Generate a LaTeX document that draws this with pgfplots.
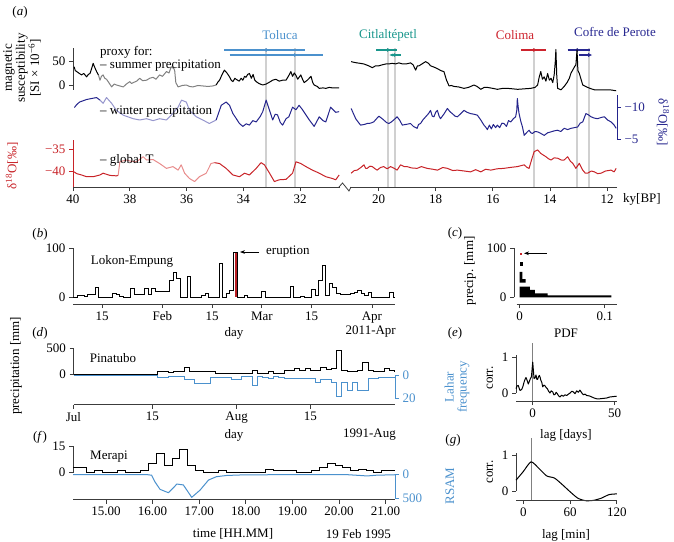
\documentclass[border=0pt]{standalone}
\usepackage{fontspec}
\setmainfont{Liberation Serif}
\usepackage{pgfplots}
\pgfplotsset{compat=1.18}
\usetikzlibrary{arrows.meta}

\definecolor{navyc}{RGB}{36,36,140}
\definecolor{navyl}{RGB}{150,150,205}
\definecolor{redc}{RGB}{200,35,40}
\definecolor{pinkc}{RGB}{232,140,140}
\definecolor{grayc}{RGB}{128,128,128}
\definecolor{tolc}{RGB}{75,145,205}
\definecolor{citc}{RGB}{25,150,140}
\definecolor{colc}{RGB}{205,35,45}
\definecolor{cofc}{RGB}{40,40,145}
\definecolor{lahc}{RGB}{75,145,205}
\definecolor{vline}{RGB}{208,208,208}
\definecolor{axc}{RGB}{60,60,60}
\definecolor{erupc}{RGB}{185,30,35}

\newcommand{\fs}{\fontsize{13}{13}\selectfont}

\pgfplotsset{
  P/.style n args={4}{scale only axis, anchor=south west, at={(#1pt,-#2pt)},
    width=#3pt, height=#4pt, clip=false, tick align=outside,
    major tick length=4pt, tick style={axc,line width=0.8pt},
    axis line style={axc,line width=0.8pt},
    tick label style={font=\fs}, minor tick num=0},
  noax/.style={axis lines=none},
  yonly/.style={axis y line*=left, axis x line=none, xtick=\empty},
  xonly/.style={axis x line*=bottom, axis y line=none, ytick=\empty, ymin=0, ymax=1},
  dl/.style={line width=1pt, line join=round},
  hl/.style={line width=0.9pt, const plot},
}

\begin{document}
\begin{tikzpicture}[font=\fs]
\useasboundingbox (0,0) rectangle (674pt,-541pt);

% ================= (a) left segment =================
\begin{axis}[P={73}{187}{267}{147}, noax, x dir=reverse, xmin=30.6, xmax=40, ymin=0, ymax=147]
\addplot[vline, line width=2pt] coordinates {(33.2,0)(33.2,139)};
\addplot[vline, line width=2pt] coordinates {(32.2,0)(32.2,139)};
\addplot[tolc, line width=1.2pt] coordinates {(34.67,137)(31.82,137)};
\addplot[tolc, line width=1.2pt] coordinates {(34.49,132)(31.19,132)};
\addplot[tolc, only marks, mark=*, mark size=1.5pt] coordinates {(33.2,137)(32.2,132)};
\end{axis}

\begin{axis}[P={73}{89.8}{267}{41.8}, yonly, x dir=reverse, xmin=30.6, xmax=40,
  ymin=-10, ymax=77, ytick={0,50}, yticklabels={0,50}]
\addplot[dl, black] coordinates {(39.96,38)(39.92,30)(39.87,28)(39.80,25)(39.70,21)(39.62,24)
  (39.52,17)(39.46,22)(39.40,24)(39.34,35)(39.29,45)(39.23,36)(39.17,28)(39.10,20)};
\addplot[dl, grayc] coordinates {(39.10,20)(39.05,10)(39.00,18)(38.94,21)(38.88,14)(38.82,12)
  (38.75,6)(38.64,-4)(38.55,2)(38.47,0)(38.35,-2)(38.23,-4)(38.12,2)(38.00,7)(37.94,3)(37.88,5)
  (37.76,8)(37.65,14)(37.55,9)(37.41,10)(37.30,14)(37.18,16)(37.08,12)(36.95,21)(36.85,18)
  (36.71,28)(36.62,25)(36.54,38)(36.45,34)(36.42,30)(36.38,5)(36.30,-4)(36.15,-1)(36.01,0)
  (35.90,-3)(35.78,-4)(35.60,-1)(35.43,-2)(35.25,-3)(35.08,-2)(34.96,0)};
\addplot[dl, black] coordinates {(34.96,0)(34.90,6)(34.84,10)(34.75,22)(34.67,31)(34.58,25)
  (34.49,17)(34.43,10)(34.37,7)(34.30,14)(34.26,12)(34.15,8)(34.08,14)(34.02,10)(33.96,18)
  (33.91,16)(33.85,22)(33.79,24)(33.72,14)(33.66,22)(33.60,10)(33.55,7)(33.45,3)(33.32,0)
  (33.20,2)(33.08,6)(32.97,10)(32.86,12)(32.74,8)(32.62,10)(32.50,10)(32.40,20)(32.33,28)
  (32.27,18)(32.21,25)(32.15,20)(32.09,12)(31.98,21)(31.92,12)(31.86,5)(31.75,10)(31.62,18)
  (31.56,5)(31.51,0)(31.40,-3)(31.33,-7)(31.20,-6)(31.10,-7)(30.98,-5)(30.87,-6)(30.75,-6)(30.63,-6)};
\end{axis}

\begin{axis}[P={73}{139.2}{267}{44.2}, noax, x dir=reverse, xmin=30.6, xmax=40,
  y dir=reverse, ymin=-11.9, ymax=-5]
\addplot[dl, navyc] coordinates {(39.95,-9.95)(39.87,-10.4)(39.77,-10.8)(39.52,-11.2)
  (39.29,-11.4)(39.17,-11.5)(39.05,-11.1)};
\addplot[dl, navyl] coordinates {(39.05,-11.1)(38.94,-10.6)(38.82,-11.5)(38.64,-10.6)
  (38.47,-9.5)(38.23,-8.75)(37.88,-8.2)(37.65,-8.0)(37.41,-8.2)(37.18,-7.9)(36.95,-8.2)
  (36.71,-8.0)(36.54,-8.75)(36.30,-10.0)(36.18,-11.1)(36.01,-10.8)(35.90,-9.5)(35.66,-8.5)
  (35.43,-8.0)(35.20,-7.45)(34.96,-8.0)};
\addplot[dl, navyc] coordinates {(34.96,-8.0)(34.78,-10.3)(34.61,-10.8)(34.49,-10.3)
  (34.37,-9.0)(34.25,-8.2)(34.14,-7.45)(34.02,-7.0)(33.90,-7.4)(33.79,-7.2)(33.67,-7.9)(33.55,-7.7)
  (33.40,-8.6)(33.32,-9.3)(33.20,-11.1)(33.08,-9.5)(32.97,-8.0)(32.88,-8.9)(32.80,-8.8)
  (32.70,-7.6)(32.62,-7.2)(32.50,-8.2)(32.40,-8.5)(32.27,-10.0)(32.15,-9.6)(32.04,-10.3)
  (31.92,-9.6)(31.80,-8.8)(31.68,-8.0)(31.51,-7.0)(31.33,-8.5)(31.20,-7.9)(31.10,-7.7)
  (30.93,-10.0)(30.75,-9.2)(30.63,-9.3)};
\end{axis}

\begin{axis}[P={73}{187}{267}{47}, axis x line*=bottom, axis y line*=left,
  x dir=reverse, xmin=30.6, xmax=40, ymin=-43.64, ymax=-32.95,
  xtick={40,38,36,34,32}, xticklabels={40,38,36,34,32},
  ytick={-40,-35}, yticklabels={−40,−35},
  y axis line style={redc}, ytick style={redc}, yticklabel style={text=redc}]
\addplot[dl, redc] coordinates {(39.96,-40.2)(39.87,-40.6)(39.70,-40.9)(39.52,-41.3)
  (39.29,-41.3)(39.05,-40.9)(38.94,-40.5)(38.70,-41.0)(38.47,-41.1)(38.41,-41.0)};
\addplot[dl, pinkc] coordinates {(38.41,-41.0)(38.35,-37.9)(38.12,-37.5)(37.95,-37.8)
  (37.76,-37.9)(37.53,-36.75)(37.41,-37.5)(37.18,-37.4)(36.95,-38.3)(36.71,-39.4)(36.48,-39.0)
  (36.30,-39.8)(36.19,-38.6)(36.07,-40.5)(35.90,-41.7)(35.72,-42.4)(35.55,-41.3)(35.31,-40.5)
  (35.14,-38.3)(35.02,-38.1)};
\addplot[dl, redc] coordinates {(35.02,-38.1)(34.84,-38.3)(34.61,-39.4)(34.37,-40.9)
  (34.14,-41.3)(33.96,-40.5)(33.79,-40.9)(33.55,-39.4)(33.38,-38.1)(33.26,-38.6)(33.08,-40.5)
  (32.91,-42.4)(32.74,-42.0)(32.50,-41.9)(32.27,-40.5)(32.15,-37.9)(31.98,-38.3)(31.80,-39.0)
  (31.57,-39.8)(31.33,-40.5)(31.10,-41.3)(30.87,-41.7)(30.75,-42.0)(30.63,-40.9)};
\end{axis}

% ================= (a) right segment =================
\begin{axis}[P={350}{187}{267}{147}, noax, x dir=reverse, xmin=11.65, xmax=21, ymin=0, ymax=147]
\addplot[vline, line width=2pt] coordinates {(19.68,0)(19.68,139)};
\addplot[vline, line width=2pt] coordinates {(19.44,0)(19.44,139)};
\addplot[vline, line width=2pt] coordinates {(14.56,0)(14.56,139)};
\addplot[vline, line width=2pt] coordinates {(13.04,0)(13.04,139)};
\addplot[vline, line width=2pt] coordinates {(12.64,0)(12.64,139)};
\addplot[citc, line width=1.2pt] coordinates {(20.08,137)(19.34,137)};
\addplot[citc, line width=1.2pt, -{Stealth[length=4pt]}] coordinates {(19.23,132)(19.62,132)};
\addplot[citc, only marks, mark=*, mark size=1.5pt] coordinates {(19.68,137)(19.44,132)};
\addplot[colc, line width=1.2pt] coordinates {(15.02,137)(14.14,137)};
\addplot[colc, only marks, mark=*, mark size=1.5pt] coordinates {(14.56,137)};
\addplot[cofc, line width=1.2pt] coordinates {(13.38,137)(12.59,137)};
\addplot[cofc, line width=1.2pt, -{Stealth[length=4pt]}] coordinates {(12.98,132)(12.52,132)};
\addplot[cofc, only marks, mark=*, mark size=1.5pt] coordinates {(13.04,137)(12.64,132)};
\end{axis}

\begin{axis}[P={350}{89.8}{267}{41.8}, noax, x dir=reverse, xmin=11.65, xmax=21, ymin=-10, ymax=77]
\addplot[dl, black] coordinates {(20.96,48.6)(20.85,47)(20.75,46)(20.63,45)(20.51,43.7)
  (20.35,40)(20.22,36)(20.10,40)(19.99,40)(19.87,42)(19.75,43.7)(19.63,44)(19.52,45)(19.40,44)
  (19.29,46)(19.17,44)(19.05,43.7)(18.95,45)(18.88,46)(18.79,42)(18.70,31)(18.64,40)(18.58,40)
  (18.45,45)(18.35,48.6)(18.25,45)(18.18,40)(18.05,37)(17.94,34)(17.82,30)(17.71,27.8)(17.62,10)
  (17.53,-2)(17.45,-1)(17.36,-3)(17.20,-4)(17.01,-7)(16.85,-5)(16.66,0)(16.55,-3)(16.42,-9)
  (16.30,-5)(16.19,-5)(16.00,-7)(15.84,-9)(15.65,-7)(15.48,-7)(15.30,-8)(15.13,-9)(14.90,-8)
  (14.67,-7)(14.52,-5)(14.43,0)(14.38,15)(14.32,28)(14.26,12)(14.20,17)(14.14,8)(14.08,24)
  (14.02,10)(13.96,14)(13.90,5)(13.85,21)(13.81,50)(13.79,74)(13.76,20)(13.73,-7)(13.61,-10)
  (13.50,-3)(13.40,5)(13.32,14)(13.26,25)(13.20,31)(13.14,38)(13.09,42)(13.05,73)(13.02,30)
  (12.97,24)(12.91,12)(12.85,0)(12.75,-3)(12.68,-5)(12.55,-8)(12.44,-10)(12.25,-10)(12.09,-10)
  (11.90,-10)(11.68,-12)};
\end{axis}

\begin{axis}[P={350}{139.2}{267}{44.2}, axis y line*=right, axis x line=none, xtick=\empty,
  x dir=reverse, xmin=11.65, xmax=21, y dir=reverse, ymin=-11.9, ymax=-5,
  ytick={-10,-5}, yticklabels={−10,−5},
  y axis line style={navyc}, ytick style={navyc}, yticklabel style={text=navyc}]
\addplot[dl, navyc] coordinates {(20.96,-9.8)(20.88,-9.0)(20.80,-8.2)(20.70,-7.6)(20.63,-7.2)
  (20.50,-7.3)(20.40,-7.45)(20.28,-7.5)(20.17,-7.7)(20.05,-8.3)(19.99,-8.6)(19.90,-8.3)
  (19.82,-8.0)(19.72,-7.6)(19.64,-7.45)(19.55,-7.7)(19.47,-8.0)(19.35,-8.5)(19.25,-7.9)
  (19.17,-7.2)(19.05,-7.3)(18.88,-7.45)(18.78,-7.0)(18.65,-6.7)(18.60,-7.3)(18.53,-7.45)
  (18.45,-8.0)(18.35,-8.5)(18.25,-9.0)(18.18,-9.5)(18.12,-8.6)(18.06,-8.5)(18.00,-9.2)
  (17.94,-9.5)(17.88,-8.6)(17.83,-8.2)(17.70,-9.0)(17.59,-9.8)(17.50,-9.3)(17.42,-9.0)
  (17.32,-8.6)(17.24,-8.5)(17.12,-9.0)(17.01,-9.5)(16.90,-9.2)(16.78,-9.0)(16.66,-8.9)
  (16.54,-8.75)(16.42,-8.0)(16.31,-7.2)(16.25,-6.9)(16.19,-6.5)(16.12,-7.2)(16.05,-6.6)
  (15.98,-7.3)(15.90,-6.8)(15.84,-7.2)(15.76,-6.8)(15.68,-7.5)(15.61,-7.45)(15.52,-7.0)
  (15.45,-7.9)(15.37,-7.7)(15.28,-8.2)(15.20,-8.5)(15.16,-9.5)(15.14,-11.36)(15.11,-10)
  (15.08,-9.0)(15.02,-7.8)(14.96,-6.9)(14.90,-5.6)(14.82,-6.0)(14.73,-6.4)(14.67,-6.0)
  (14.61,-5.9)(14.52,-6.2)(14.43,-6.15)(14.32,-5.9)(14.20,-5.6)(14.08,-6.0)(13.96,-6.15)
  (13.85,-6.3)(13.73,-6.4)(13.62,-6.2)(13.50,-6.7)(13.38,-6.5)(13.26,-6.7)(13.15,-6.8)
  (13.03,-6.9)(12.94,-7.5)(12.85,-7.7)(12.74,-9.0)(12.65,-8.8)(12.56,-8.5)(12.45,-8.3)
  (12.33,-8.2)(12.20,-8.4)(12.09,-8.5)(11.98,-8.0)(11.86,-7.7)(11.75,-7.2)(11.68,-6.7)};
\end{axis}

\begin{axis}[P={350}{187}{267}{47}, axis x line*=bottom, axis y line=none, ytick=\empty,
  x dir=reverse, xmin=11.65, xmax=21, ymin=-43.64, ymax=-32.95,
  xtick={20,18,16,14,12}, xticklabels={20,18,16,14,12}]
\addplot[dl, redc] coordinates {(20.96,-40.5)(20.85,-39.9)(20.75,-39.8)(20.62,-39.2)
  (20.51,-38.6)(20.45,-39.4)(20.40,-39.4)(20.30,-38.9)(20.22,-39.0)(20.12,-39.5)(20.05,-39.8)
  (19.93,-39.2)(19.82,-39.0)(19.70,-39.5)(19.58,-39.0)(19.45,-39.4)(19.35,-39.8)(19.23,-38.6)
  (19.10,-39.0)(19.00,-39.0)(18.85,-39.3)(18.65,-39.4)(18.50,-39.0)(18.30,-39.4)(18.10,-39.6)
  (17.94,-39.8)(17.75,-39.2)(17.59,-39.4)(17.40,-39.9)(17.24,-39.8)(17.00,-40.0)(16.78,-40.2)
  (16.60,-39.7)(16.42,-40.2)(16.25,-39.6)(16.07,-39.8)(15.85,-39.5)(15.61,-39.4)(15.40,-39.2)
  (15.14,-39.0)(14.90,-38.6)(14.80,-39.2)(14.73,-39.4)(14.62,-37.0)(14.55,-35.6)(14.43,-35.2)
  (14.32,-36.0)(14.20,-36.5)(14.14,-36.75)(14.05,-37.2)(13.96,-37.5)(13.85,-37.0)(13.73,-37.1)
  (13.60,-37.5)(13.50,-37.5)(13.38,-36.75)(13.28,-37.8)(13.20,-38.25)(13.09,-39.4)(12.97,-38.25)
  (12.90,-39.2)(12.85,-39.8)(12.76,-40.5)(12.68,-40.5)(12.55,-40.0)(12.44,-40.2)(12.33,-40.6)
  (12.21,-40.5)(12.05,-40.0)(11.86,-39.8)(11.75,-40.2)(11.68,-39.4)};
\end{axis}

% axis break
\draw[axc, line width=0.8pt] (339pt,-187pt) -- (342.5pt,-183pt) -- (349pt,-191pt) -- (351pt,-187pt);

% ================= (b) =================
\begin{axis}[P={73}{297.3}{322}{49}, yonly, xmin=6.8, xmax=97.5, ymin=0, ymax=100,
  ytick={0,100}, yticklabels={0,100}]
\addplot[fill=erupc, draw=none] coordinates {(52.45,0)(52.45,92)(53.1,92)(53.1,0)} -- cycle;
\addplot[hl, black] coordinates {(6.8,0)(7,0)(8,3)(9,3)(10,2)(11,5)(12,5)(13,20)(14,0)(15,0)
  (16,0)(17,0)(18,7)(19,5)(20,2)(21,0)(22,0)(23,19)(24,5)(25,5)(26,5)(27,18)(28,6)(29,19)
  (30,12)(31,12)(32,12)(33,12)(34,35)(35,50)(36,38)(37,0)(38,0)(39,42)(40,0)(41,0)(42,0)(43,4)
  (44,8)(45,0)(46,0)(47,0)(48,70)(49,0)(50,8)(51,13)(52,92)(53,0)(54,0)(55,4)(56,0)(57,0)(58,0)
  (59,0)(60,11)(61,0)(62,0)(63,0)(64,0)(65,0)(66,0)(67,0)(68,22)(69,0)(70,0)(71,2)(72,0)(73,0)
  (74,16)(75,4)(76,35)(77,66)(78,3)(79,28)(80,20)(81,8)(82,5)(83,5)(84,6)(85,8)(86,10)(87,15)
  (88,8)(89,4)(90,10)(91,0)(92,0)(93,0)(94,0)(95,0)(96,10)(97,0)(97.5,0)};
\end{axis}
\begin{axis}[P={73}{304}{322}{1}, xonly, xmin=6.8, xmax=97.5,
  xtick={15,32,46,60,74,91}, xticklabels={15,Feb,15,Mar,15,Apr}]
\end{axis}

% ================= (c) =================
\begin{axis}[P={514}{297.3}{103}{49}, yonly, xmin=-0.0067, xmax=0.1145, ymin=0, ymax=100,
  ytick={0,100}, yticklabels={0,100}]
\addplot[fill=black, draw=none] coordinates {(0,0)(0.108,0)(0.108,4)(0.033,4)(0.033,8)
  (0.018,8)(0.018,15)(0.012,15)(0.012,22)(0,22)} -- cycle;
\addplot[fill=black, draw=none] coordinates {(0,30)(0.007,30)(0.007,37)(0.003,37)(0.003,52)(0,52)} -- cycle;
\addplot[fill=black, draw=none] coordinates {(0,64)(0.0042,64)(0.0042,73)(0,73)} -- cycle;
\addplot[fill=redc, draw=none] coordinates {(0,86)(0.003,86)(0.003,91)(0,91)} -- cycle;
\end{axis}
\begin{axis}[P={516.7}{304}{100.3}{1}, xonly, xmin=-0.0035, xmax=0.1145,
  xtick={0,0.1}, xticklabels={0,0.1}]
\end{axis}

% ================= (d) =================
\begin{axis}[P={73.5}{398.3}{321.5}{23.3}, axis y line*=right, axis x line=none, xtick=\empty,
  xmin=0, xmax=61.1, y dir=reverse, ymin=0, ymax=20, ytick={0,20}, yticklabels={0,20},
  y axis line style={lahc}, ytick style={lahc}, yticklabel style={text=lahc}]
\addplot[hl, lahc] coordinates {(0,0)(16,2)(17,2)(18,1)(19,1)(20,1)(21,4)(22,4)(23,7)(24,7)
  (25,7)(26,2)(27,2)(28,2)(29,2)(30,4)(31,4)(32,1)(33,1)(34,9)(35,1)(36,2)(37,3)(38,1)(39,2)
  (40,3)(41,3)(42,3)(43,3)(44,3)(45,3)(46,6)(47,4)(48,4)(49,6)(50,18)(51,6)(52,13)(53,6)(54,13)
  (55,13)(56,3)(57,3)(58,2)(59,2)(60,2)(61,2)(61.1,2)};
\end{axis}
\begin{axis}[P={73.5}{374}{321.5}{26}, yonly, xmin=0, xmax=61.1, ymin=0, ymax=500,
  ytick={0,500}, yticklabels={0,500}]
\addplot[hl, black] coordinates {(0,0)(16,45)(17,45)(18,30)(19,45)(20,45)(21,130)(22,40)
  (23,40)(24,45)(25,45)(26,45)(27,20)(28,20)(29,20)(30,15)(31,10)(32,15)(33,15)(34,60)(35,20)
  (36,20)(37,40)(38,20)(39,20)(40,60)(41,60)(42,105)(43,60)(44,110)(45,60)(46,60)(47,120)
  (48,90)(49,100)(50,460)(51,60)(52,50)(53,50)(54,75)(55,215)(56,60)(57,50)(58,50)(59,105)
  (60,70)(61,40)(61.1,40)};
\end{axis}
\begin{axis}[P={73.5}{404.5}{321.5}{1}, xonly, xmin=0, xmax=61.1,
  xtick={0,15,31,45}, xticklabels={Jul,15,Aug,15}]
\end{axis}

% ================= (e) =================
\begin{axis}[P={516}{393}{101}{38}, yonly, xmin=-10.2, xmax=51.4, ymin=0, ymax=1.056,
  ytick={0,1}, yticklabels={0,1}]
\addplot[grayc, line width=1pt] coordinates {(0,-0.22)(0,1.39)};
\addplot[dl, black] coordinates {(-10.2,0.12)(-9.5,0.2)(-8.8,0.21)(-8.2,0.12)(-7.7,0.07)
  (-6.7,0.1)(-6,0.18)(-5.3,0.3)(-4.7,0.38)(-4.1,0.43)(-3.4,0.35)(-2.7,0.25)(-2.1,0.32)
  (-1.6,0.38)(-0.8,0.45)(0,0.86)(0.8,0.4)(1.4,0.42)(2,0.5)(2.5,0.38)(3,0.38)(3.5,0.45)(4,0.49)
  (4.5,0.44)(4.9,0.36)(5.5,0.3)(6.1,0.17)(6.8,0.22)(7.5,0.2)(8.2,0.15)(8.9,0.12)(9.7,0.05)
  (10.5,0.0)(11.3,0.06)(12.2,0.03)(12.9,-0.05)(13.6,-0.04)(14.3,0.02)(15,-0.02)(15.8,-0.08)
  (16.6,-0.11)(17.6,-0.06)(18.7,-0.09)(19.7,-0.05)(20.7,-0.07)(21.8,-0.03)(22.8,0.0)
  (23.8,0.05)(24.8,0.03)(25.8,-0.02)(26.8,0.06)(27.8,0.02)(28.8,0.08)(29.8,0.01)(30.9,-0.05)
  (31.9,-0.03)(32.9,-0.07)(34.5,-0.08)(36,-0.11)(37.5,-0.14)(39,-0.16)(41,-0.16)(43,-0.15)
  (45,-0.14)(47.1,-0.11)(49,-0.1)(51.2,-0.09)};
\end{axis}
\begin{axis}[P={516}{401}{101}{1}, xonly, xmin=-10.2, xmax=51.4,
  xtick={0,50}, xticklabels={0,50}]
\end{axis}

% ================= (f) =================
\begin{axis}[P={73}{498.3}{322}{24.3}, axis y line*=right, axis x line=none, xtick=\empty,
  xmin=14.292, xmax=21.202, y dir=reverse, ymin=0, ymax=500, ytick={0,500}, yticklabels={0,500},
  y axis line style={lahc}, ytick style={lahc}, yticklabel style={text=lahc}]
\addplot[dl, lahc] coordinates {(14.292,15)(15.0,15)(15.9,15)(15.98,25)(16.05,160)(16.16,316)
  (16.34,385)(16.45,280)(16.52,206)(16.66,225)(16.84,480)(17.02,330)(17.2,124)(17.37,55)
  (17.59,30)(17.88,20)(18.5,15)(20.2,15)(20.45,30)(20.6,40)(20.8,25)(21.202,15)};
\end{axis}
\begin{axis}[P={73}{472.7}{322}{26.7}, yonly, xmin=14.292, xmax=21.202, ymin=0, ymax=15,
  ytick={0,15}, yticklabels={0,15}]
\addplot[hl, black] coordinates {(14.292,3)(14.417,3)(14.583,0)(14.75,1)(14.917,0)(15.083,0)
  (15.25,1)(15.417,0)(15.583,0)(15.75,1)(15.917,5)(16.083,11)(16.25,4)(16.417,8)(16.583,13)
  (16.75,4)(16.917,1)(17.083,0)(17.25,0)(17.417,1)(17.583,0)(17.75,0)(17.917,0)(18.083,0)
  (18.25,0)(18.417,2)(18.583,1)(18.75,1)(18.917,1)(19.083,0)(19.25,0)(19.417,1)(19.583,3)
  (19.75,5)(19.917,4)(20.083,3)(20.25,1)(20.417,2)(20.583,1)(20.75,0)(20.917,1)(21.083,1)(21.202,1)};
\end{axis}
\begin{axis}[P={73}{499.5}{322}{1}, xonly, xmin=14.292, xmax=21.202,
  xtick={15,16,17,18,19,20,21}, xticklabels={15.00,16.00,17.00,18.00,19.00,20.00,21.00}]
\end{axis}

% ================= (g) =================
\begin{axis}[P={516}{491}{101}{38}, yonly, xmin=-9.3, xmax=120.2, ymin=0, ymax=1.056,
  ytick={0,1}, yticklabels={0,1}]
\addplot[grayc, line width=1pt] coordinates {(10,-0.25)(10,1.47)};
\addplot[dl, black, smooth, tension=0.4] coordinates {(-9.3,0.3)(0,0.54)(10,0.81)(20,0.63)
  (30,0.42)(40,0.36)(50,0.18)(60,-0.02)(70,-0.2)(80,-0.27)(90,-0.26)(100,-0.2)(110,-0.1)(120,-0.08)};
\end{axis}
\begin{axis}[P={516}{500}{101}{1}, xonly, xmin=-9.3, xmax=120.2,
  xtick={0,60,120}, xticklabels={0,60,120}]
\end{axis}

% ================= texts =================
\node at (20pt,-12pt) {(\textit{a})};
\node[tolc] at (280pt,-35pt) {Toluca};
\node[citc] at (388pt,-35pt) {Citlaltépetl};
\node[colc] at (515pt,-35pt) {Colima};
\node[cofc] at (615pt,-32pt) {Cofre de Perote};
\node[anchor=west, inner sep=0pt] at (100pt,-52pt) {proxy for:};
\node[anchor=west, inner sep=0pt] at (100pt,-66pt) {– summer precipitation};
\node[anchor=west, inner sep=0pt] at (100pt,-112pt) {– winter precipitation};
\node[anchor=west, inner sep=0pt] at (100pt,-160pt) {– global T};
\node[rotate=90, align=center, inner sep=0pt] at (22pt,-68pt) {magnetic\\susceptibility\\{[SI × 10\textsuperscript{−6}]}};
\node[rotate=90, redc, inner sep=0pt] at (12pt,-166pt) {δ\textsuperscript{18}O[‰]};
\node[rotate=-90, navyc, inner sep=0pt] at (663pt,-122pt) {δ\textsuperscript{18}O[‰]};
\node at (642pt,-199pt) {ky[BP]};

\node at (40pt,-234pt) {(\textit{b})};
\node at (132pt,-261pt) {Lokon-Empung};
\node[anchor=west, inner sep=0pt] at (266pt,-252pt) {eruption};
\draw[-{Stealth[length=5pt]}, line width=0.9pt] (259pt,-252pt) -- (240pt,-252pt);
\node at (234pt,-333pt) {day};
\node[anchor=east, inner sep=0pt] at (396pt,-332pt) {2011-Apr};

\node at (455pt,-233pt) {(\textit{c})};
\node[rotate=90, inner sep=0pt] at (470pt,-271pt) {precip. [mm]};
\node at (566pt,-333pt) {PDF};
\draw[-{Stealth[length=5pt]}, line width=0.9pt] (546.7pt,-253.3pt) -- (524pt,-253.3pt);

\node at (40pt,-333pt) {(\textit{d})};
\node at (113pt,-358pt) {Pinatubo};
\node at (234pt,-435pt) {day};
\node[anchor=east, inner sep=0pt] at (396pt,-435pt) {1991-Aug};
\node[rotate=90, inner sep=0pt] at (16pt,-366pt) {precipitation [mm]};
\node[rotate=90, align=center, lahc, inner sep=0pt] at (457pt,-387pt) {Lahar\\frequency};

\node at (455pt,-333pt) {(\textit{e})};
\node[rotate=90, inner sep=0pt] at (490pt,-378pt) {corr.};
\node at (566pt,-435pt) {lag [days]};

\node at (40pt,-437pt) {(\textit{f})};
\node at (109pt,-457pt) {Merapi};
\node at (233pt,-534pt) {time [HH.MM]};
\node[anchor=east, inner sep=0pt] at (391pt,-534pt) {19 Feb 1995};
\node[rotate=90, lahc, inner sep=0pt] at (450pt,-486pt) {RSAM};

\node at (453pt,-440pt) {(\textit{g})};
\node[rotate=90, inner sep=0pt] at (490pt,-472pt) {corr.};
\node at (566pt,-535pt) {lag [min]};
\end{tikzpicture}
\end{document}
